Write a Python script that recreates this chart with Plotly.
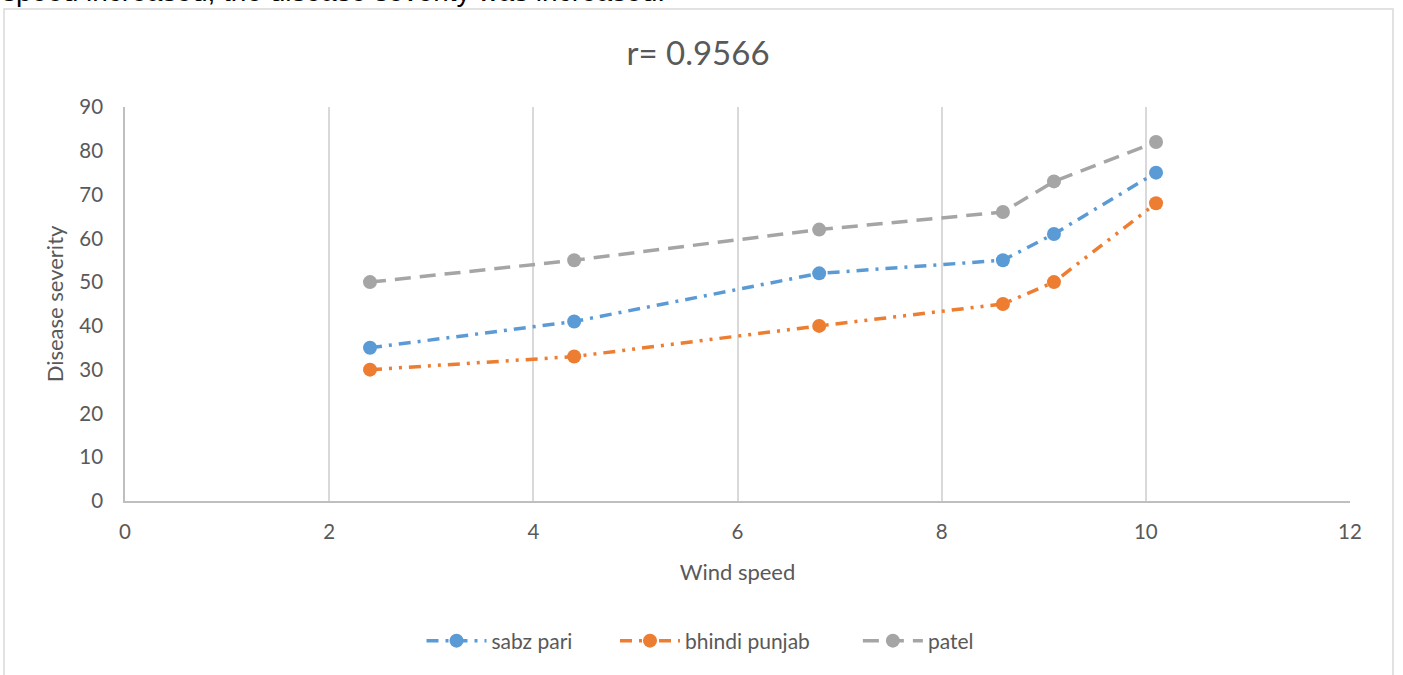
import plotly.graph_objects as go

wind_speed = [2.4, 4.4, 6.8, 8.6, 9.1, 10.1]
sabz_pari = [35, 41, 52, 55, 61, 75]
bhindi_punjab = [30, 33, 40, 45, 50, 68]
patel = [50, 55, 62, 66, 73, 82]

x_ticks = [0, 2, 4, 6, 8, 10, 12]
y_ticks = [0, 10, 20, 30, 40, 50, 60, 70, 80, 90]

W, H = 1403, 675
L, R, T, B = 125, 1350, 107, 501

FONT = "Lato, Open Sans, sans-serif"
GRAY = "#595959"
NB = "\u00a0"

def py(p):
    return (B - p) / (B - T)

def px(p):
    return (p - L) / (R - L)

fig = go.Figure()
series = [
    ("sabz pari" + NB * 7, sabz_pari, "#5B9BD5", "12px,7px,3px,7px"),
    ("bhindi punjab" + NB * 8, bhindi_punjab, "#ED7D31", "12px,7px,3px,7px,3px,7px"),
    ("patel", patel, "#A5A5A5", "16px,9px"),
]
for name, vals, col, dash in series:
    fig.add_trace(go.Scatter(
        x=wind_speed, y=vals, name=name, mode="lines+markers",
        line=dict(color=col, width=3.5, dash=dash),
        marker=dict(color=col, size=14),
    ))

fig.update_layout(
    width=W, height=H,
    margin=dict(l=L, r=W - R, t=T, b=H - B),
    paper_bgcolor="white", plot_bgcolor="white",
    font=dict(family=FONT, color=GRAY, size=20),
    showlegend=True,
    legend=dict(orientation="h", x=px(700), xanchor="center", y=py(641), yanchor="middle",
                font=dict(size=21, color=GRAY), itemwidth=60, traceorder="normal"),
    title=dict(text="r= 0.9566", xref="container", x=698 / W, xanchor="center",
               yref="container", y=1 - 53 / H, yanchor="middle",
               font=dict(size=33, color=GRAY, family=FONT)),
    xaxis=dict(range=[0, 12], tickvals=x_ticks, showgrid=True, gridcolor="#d9d9d9", gridwidth=1.5,
               zeroline=False, showline=True, linecolor="#bfbfbf", linewidth=1.5,
               ticks="", tickfont=dict(size=20.5, color=GRAY), ticklabelstandoff=12,
               title=dict(text="Wind speed", font=dict(size=22, color=GRAY), standoff=22)),
    yaxis=dict(range=[0, 90], tickvals=y_ticks, showgrid=False, zeroline=False,
               showline=True, linecolor="#bfbfbf", linewidth=1.5, ticks="",
               tickfont=dict(size=20.5, color=GRAY), ticklabelstandoff=16,
               title=dict(text="Disease severity", font=dict(size=22, color=GRAY), standoff=10)),
)

# outer chart border
fig.add_shape(type="rect", xref="paper", yref="paper",
              x0=px(4), x1=px(1393), y0=py(700), y1=py(9),
              line=dict(color="#d9d9d9", width=1.5), fillcolor="rgba(0,0,0,0)", layer="below")

# clipped text of the document above the chart
fig.add_annotation(text="speed increased, the disease severity was increased.",
                   xref="paper", yref="paper", x=px(0), xanchor="left",
                   y=py(-9), yanchor="middle", showarrow=False,
                   font=dict(size=28, color="#000000", family="Liberation Sans, Arial, sans-serif"))

fig.write_html("out.html")
